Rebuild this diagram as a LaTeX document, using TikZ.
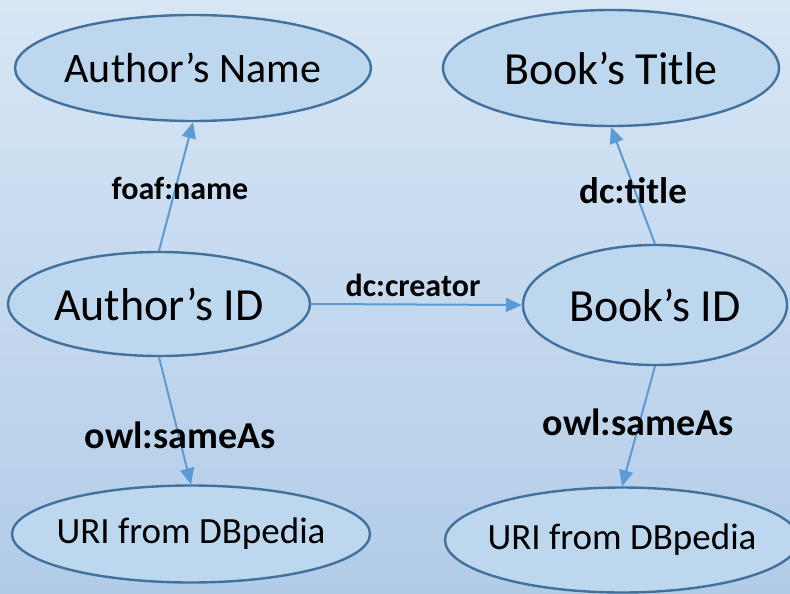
\documentclass[tikz,border=0pt]{standalone}
\usepackage{fontspec}
\setmainfont{Carlito}
\usetikzlibrary{shapes.geometric,arrows.meta}
\definecolor{bgtop}{RGB}{215,230,245}
\definecolor{bgbot}{RGB}{178,204,232}
\definecolor{ovalfill}{RGB}{189,215,238}
\definecolor{ovalline}{RGB}{65,113,156}
\definecolor{linkblue}{RGB}{91,155,213}
\begin{document}
\begin{tikzpicture}[x=1pt, y=-1pt,
        oval/.style={ellipse, draw=ovalline, fill=ovalfill, line width=2.4pt, inner xsep=-60pt, inner ysep=-10pt},
        link/.style={draw=linkblue, line width=2pt, -{Triangle[length=16pt, width=14pt]}},
        rel/.style={font=\bfseries\fontsize{#1}{#1}\selectfont}]
    \useasboundingbox (0,0) rectangle (790,594);
    \clip (0,0) rectangle (790,594);
    \shade [top color=bgtop, bottom color=bgbot] (0,0) rectangle (790,594);
    \node [oval, minimum width=356pt, minimum height=106pt, font=\fontsize{42}{48}\selectfont] (aname) at (193,68) {Author’s Name};
    \node [oval, minimum width=336pt, minimum height=116pt, font=\fontsize{46}{52}\selectfont] (btitle) at (611,68) {Book’s Title};
    \node [oval, minimum width=302pt, minimum height=104pt, font=\fontsize{46}{52}\selectfont] (aid) at (159,304) {Author’s ID};
    \node [oval, minimum width=264pt, minimum height=120pt, font=\fontsize{46}{52}\selectfont] (bid) at (655,305) {Book’s ID};
    \node [oval, minimum width=358pt, minimum height=97pt, font=\fontsize{37}{42}\selectfont] (auri) at (191,534) {URI from DBpedia};
    \node [oval, minimum width=354pt, minimum height=105pt, font=\fontsize{37}{42}\selectfont] (buri) at (622,540) {URI from DBpedia};
    \draw [link] (aid.north) -- (aname.south);
    \draw [link] (bid.north) -- (btitle.south);
    \draw [link] (aid.east) -- (bid.west);
    \draw [link] (aid.south) -- (auri.north);
    \draw [link] (bid.south) -- (buri.north);
    \node [rel=32] (lname) at (180,188) {foaf:name};
    \node [rel=37] (ltitle) at (633,191) {dc:title};
    \node [rel=32] (lcreator) at (413,285) {dc:creator};
    \node [rel=38] (lasame) at (180,435) {owl:sameAs};
    \node [rel=38] (lbsame) at (638,422) {owl:sameAs};
\end{tikzpicture}
\end{document}
